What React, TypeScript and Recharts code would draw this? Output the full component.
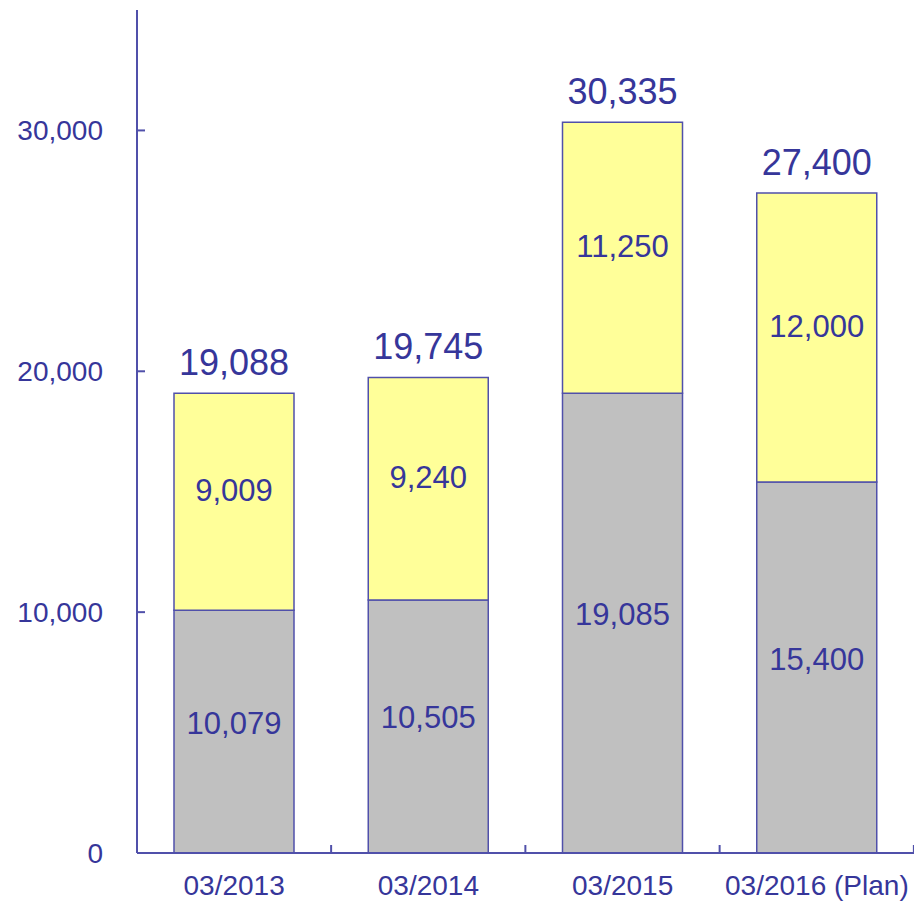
import { BarChart, Bar, XAxis, YAxis, LabelList } from "recharts";

const periods = ["03/2013", "03/2014", "03/2015", "03/2016 (Plan)"];
const lowerValues = [10079, 10505, 19085, 15400];
const upperValues = [9009, 9240, 11250, 12000];
const yTicks = [0, 10000, 20000, 30000];

const data = periods.map((period, i) => ({
  period,
  lower: lowerValues[i],
  upper: upperValues[i],
  total: lowerValues[i] + upperValues[i],
}));

const TEXT = "#36369a";
const AXIS = "#5050aa";
const FONT = "'Liberation Sans', Arial, sans-serif";
const fmt = (v: number) => v.toLocaleString("en-US");

const YTick = (props: any) => {
  const { x, y, payload } = props;
  return (
    <g>
      <line x1={x} x2={x + 8} y1={y} y2={y} stroke={AXIS} strokeWidth={2} />
      <text x={x - 34} y={y} dy={10} textAnchor="end" fill={TEXT} fontSize={28} fontFamily={FONT}>
        {fmt(payload.value)}
      </text>
    </g>
  );
};

const XTick = (props: any) => {
  const { x, y, payload } = props;
  return (
    <g>
      <line x1={x + 97} x2={x + 97} y1={y} y2={y - 8} stroke={AXIS} strokeWidth={2} />
      <text x={x} y={y + 42} textAnchor="middle" fill={TEXT} fontSize={28} fontFamily={FONT}>
        {payload.value}
      </text>
    </g>
  );
};

export default function App() {
  return (
    <div style={{ width: 914, height: 904, background: "#fff" }}>
      <style>{`body{margin:0}`}</style>
      <BarChart
        width={914}
        height={904}
        data={data}
        margin={{ top: 10, right: 0, left: 0, bottom: 0 }}
      >
        <XAxis
          dataKey="period"
          axisLine={{ stroke: AXIS, strokeWidth: 2 }}
          tickLine={false}
          tickSize={0}
          tickMargin={0}
          tick={<XTick />}
          height={51}
          interval={0}
        />
        <YAxis
          domain={[0, 35000]}
          ticks={yTicks}
          width={137}
          axisLine={{ stroke: AXIS, strokeWidth: 2 }}
          tickLine={false}
          tickSize={0}
          tickMargin={0}
          tick={<YTick />}
        />
        <Bar
          dataKey="lower"
          stackId="a"
          fill="#c0c0c0"
          stroke={AXIS}
          strokeWidth={1.5}
          barSize={120}
          isAnimationActive={false}
        >
          <LabelList
            dataKey="lower"
            position="center"
            formatter={(v: any) => fmt(v)}
            fill={TEXT}
            fontSize={31}
            fontFamily={FONT}
            dy={-9}
          />
        </Bar>
        <Bar
          dataKey="upper"
          stackId="a"
          fill="#ffff99"
          stroke={AXIS}
          strokeWidth={1.5}
          barSize={120}
          isAnimationActive={false}
        >
          <LabelList
            dataKey="upper"
            position="center"
            formatter={(v: any) => fmt(v)}
            fill={TEXT}
            fontSize={31}
            fontFamily={FONT}
            dy={-12}
          />
          <LabelList
            dataKey="total"
            position="top"
            offset={18}
            formatter={(v: any) => fmt(v)}
            fill={TEXT}
            fontSize={36}
            fontFamily={FONT}
          />
        </Bar>
      </BarChart>
    </div>
  );
}
